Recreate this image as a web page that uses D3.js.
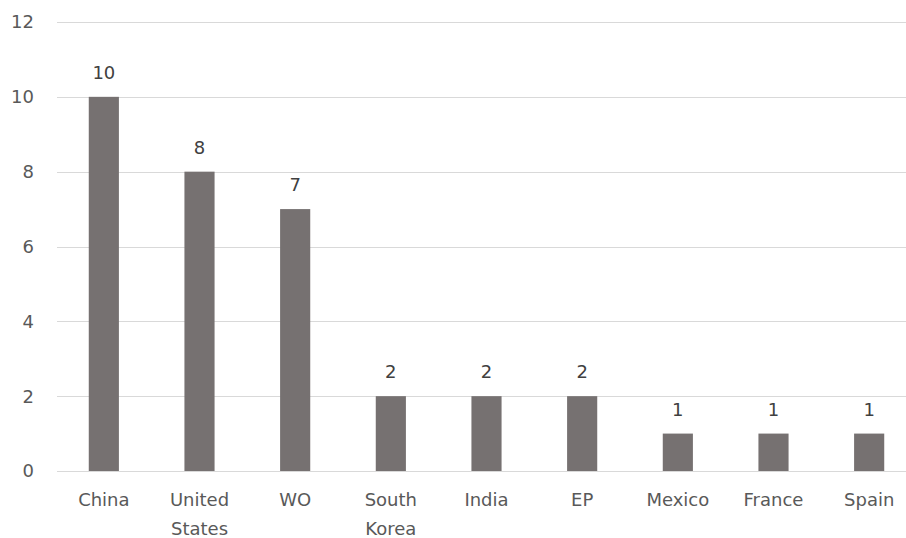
<!DOCTYPE html>
<html>
<head>
<meta charset="utf-8">
<script src="https://cdn.jsdelivr.net/npm/d3@7"></script>
<style>
  html, body { margin: 0; padding: 0; background: #fff; }
  svg { display: block; overflow: hidden; }
</style>
</head>
<body>
<svg id="chart" width="906" height="538"></svg>
<script>
const categories = [["China"], ["United", "States"], ["WO"], ["South", "Korea"], ["India"], ["EP"], ["Mexico"], ["France"], ["Spain"]];
const values = [10, 8, 7, 2, 2, 2, 1, 1, 1];
const yTicks = [0, 2, 4, 6, 8, 10, 12];

(function () {
const svg = d3.select("#chart");
const W = 906, H = 538;
const mLeft = 56, mRight = 917, mTop = 22, mBottom = 471;
const font = "'DejaVu Sans', sans-serif";
const textColor = "#595959";

const keys = categories.map(c => c.join(" "));
const x = d3.scaleBand().domain(keys).range([mLeft, mRight]).paddingInner(0.685).paddingOuter(0.3425);
const y = d3.scaleLinear().domain([0, 12]).range([mBottom, mTop]);

// gridlines
svg.append("g").selectAll("line").data(yTicks).join("line")
  .attr("x1", mLeft + 1).attr("x2", W)
  .attr("y1", d => Math.round(y(d)) + 0.5).attr("y2", d => Math.round(y(d)) + 0.5)
  .attr("stroke", "#d9d9d9").attr("stroke-width", 1);

// y axis labels
const yAxis = d3.axisLeft(y).tickValues(yTicks).tickSize(0).tickPadding(0);
const gy = svg.append("g").attr("transform", `translate(34,0)`).call(yAxis);
gy.select(".domain").remove();
gy.selectAll("text").attr("font-family", font).attr("font-size", 18).attr("fill", textColor).attr("dy", "0.33em");

// bars
svg.append("g").selectAll("rect").data(values).join("rect")
  .attr("x", (d, i) => x(keys[i]))
  .attr("width", x.bandwidth())
  .attr("y", d => y(d))
  .attr("height", d => y(0) - y(d))
  .attr("fill", "#767171");

// value labels
svg.append("g").selectAll("text").data(values).join("text")
  .attr("x", (d, i) => x(keys[i]) + x.bandwidth() / 2)
  .attr("y", d => y(d) - 18)
  .attr("text-anchor", "middle")
  .attr("font-family", font).attr("font-size", 18).attr("fill", "#404040")
  .text(d => d);

// category labels
const xAxis = d3.axisBottom(x).tickSize(0).tickPadding(0).tickFormat(() => "");
const gx = svg.append("g").attr("transform", `translate(0,${mBottom})`).call(xAxis);
gx.select(".domain").remove();
gx.selectAll(".tick").each(function(d, i) {
  const t = d3.select(this).select("text").attr("y", 0).attr("dy", null)
    .attr("font-family", font).attr("font-size", 18).attr("fill", textColor);
  categories[i].forEach((line, j) => {
    t.append("tspan").attr("x", 0).attr("y", 35 + j * 29).text(line);
  });
});
})();
</script>
</body>
</html>
